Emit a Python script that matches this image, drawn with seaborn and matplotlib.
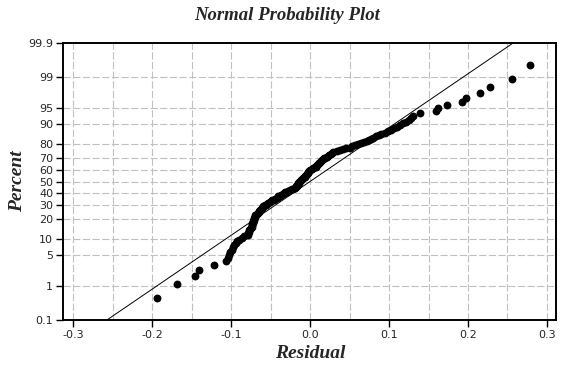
import numpy as np
import matplotlib
matplotlib.use("Agg")
import matplotlib.pyplot as plt
import seaborn as sns
from statistics import NormalDist

# residuals, sorted (n = 150)
residuals = [
    -0.194, -0.168, -0.145, -0.140, -0.121, -0.106, -0.104, -0.103, -0.101, -0.099,
    -0.098, -0.096, -0.094, -0.092, -0.090, -0.086, -0.083, -0.079, -0.078, -0.077,
    -0.077, -0.076, -0.075, -0.074, -0.0735, -0.073, -0.0726, -0.0722, -0.0717, -0.0713,
    -0.0708, -0.0704, -0.0699, -0.0695, -0.069, -0.0677, -0.0663, -0.065, -0.064, -0.063,
    -0.062, -0.061, -0.060, -0.059, -0.0575, -0.056, -0.0545, -0.053, -0.0512, -0.0493,
    -0.0475, -0.0457, -0.0438, -0.042, -0.041, -0.040, -0.0382, -0.0364, -0.0346, -0.0329,
    -0.0311, -0.0293, -0.0275, -0.0254, -0.0232, -0.0211, -0.019, -0.0183, -0.0176, -0.0169,
    -0.0162, -0.0155, -0.0148, -0.0141, -0.0134, -0.0127, -0.0117, -0.0108, -0.0098, -0.0088,
    -0.0079, -0.0069, -0.0059, -0.005, -0.004, -0.0033, -0.0027, -0.002, -0.0013, -0.0007,
    0.0, 0.002, 0.004, 0.006, 0.007, 0.008, 0.009, 0.010, 0.011, 0.012,
    0.013, 0.014, 0.015, 0.016, 0.0177, 0.0194, 0.0211, 0.0228, 0.0244, 0.0261,
    0.0278, 0.0295, 0.0336, 0.0377, 0.0418, 0.0459, 0.050, 0.0537, 0.0573, 0.061,
    0.0647, 0.0683, 0.072, 0.0747, 0.0773, 0.080, 0.0833, 0.0867, 0.090, 0.0943,
    0.0987, 0.103, 0.1068, 0.1105, 0.1143, 0.118, 0.1215, 0.125, 0.1275, 0.130,
    0.139, 0.1595, 0.1616, 0.173, 0.192, 0.197, 0.215, 0.228, 0.256, 0.279,
]

# fitted normal line (mean, std dev)
fit_mean = 0.0
fit_sd = 0.0832

percent_ticks = [0.1, 1, 5, 10, 20, 30, 40, 50, 60, 70, 80, 90, 95, 99, 99.9]
percent_labels = ["0.1", "1", "5", "10", "20", "30", "40", "50", "60", "70",
                  "80", "90", "95", "99", "99.9"]
x_ticks = [-0.3, -0.2, -0.1, 0.0, 0.1, 0.2, 0.3]
x_labels = ["-0.3", "-0.2", "-0.1", "0.0", "0.1", "0.2", "0.3"]

# median ranks -> percent
n = len(residuals)
ranks = np.arange(1, n + 1)
percents = (ranks - 0.3) / (n + 0.4) * 100

nd = NormalDist()
_ppf = np.vectorize(nd.inv_cdf, otypes=[float])
_cdf = np.vectorize(nd.cdf, otypes=[float])


def prob_fwd(p):
    p = np.clip(np.asarray(p, dtype=float) / 100.0, 1e-9, 1 - 1e-9)
    return _ppf(p)


def prob_inv(z):
    return _cdf(np.asarray(z, dtype=float)) * 100.0


sns.set_style("white")
plt.rcParams["font.family"] = ["DejaVu Sans"]

fig = plt.figure(figsize=(5.78, 3.66), dpi=100)
ax = fig.add_axes([63 / 578, 1 - 320 / 366, (556 - 63) / 578, (320 - 43) / 366])
ax.set_yscale("function", functions=(prob_fwd, prob_inv))

# grid
grid_kw = dict(color="#c0c0c0", lw=0.8, linestyle=(0, (6.5, 2.2)), zorder=0)
for gx in np.arange(-0.3, 0.301, 0.05):
    ax.axvline(gx, **grid_kw)
for gy in percent_ticks[1:-1]:
    ax.axhline(gy, **grid_kw)

# fitted line
line_p = np.array([0.1, 99.9])
line_x = fit_mean + fit_sd * prob_fwd(line_p)
sns.lineplot(x=line_x, y=line_p, ax=ax, color="black", lw=0.7, zorder=2)

sns.scatterplot(x=residuals, y=percents, ax=ax, color="black", s=32,
                linewidth=0, zorder=3)

ax.set_xlim(-0.3127, 0.3114)
ax.set_ylim(0.1, 99.9)
ax.set_xticks(x_ticks)
ax.set_xticklabels(x_labels)
ax.set_yticks(percent_ticks)
ax.set_yticklabels(percent_labels)
ax.minorticks_off()
ax.tick_params(axis="both", direction="out", length=5, width=1, color="black",
               labelsize=8, pad=2, left=True, bottom=True)
for sp in ax.spines.values():
    sp.set_color("black")
    sp.set_linewidth(1.4)

serif = ["Liberation Serif", "DejaVu Serif"]
fig.text(0.497, 1 - 15 / 366, "Normal Probability Plot", ha="center", va="center",
         fontsize=13.5, fontweight="bold", fontstyle="italic", family=serif)
fig.text(310 / 578, 1 - 353 / 366, "Residual", ha="center", va="center",
         fontsize=14, fontweight="bold", fontstyle="italic", family=serif)
fig.text(18 / 578, 1 - 181 / 366, "Percent", ha="center", va="center", rotation=90,
         fontsize=14, fontweight="bold", fontstyle="italic", family=serif)

fig.savefig("out.png", dpi=100)
